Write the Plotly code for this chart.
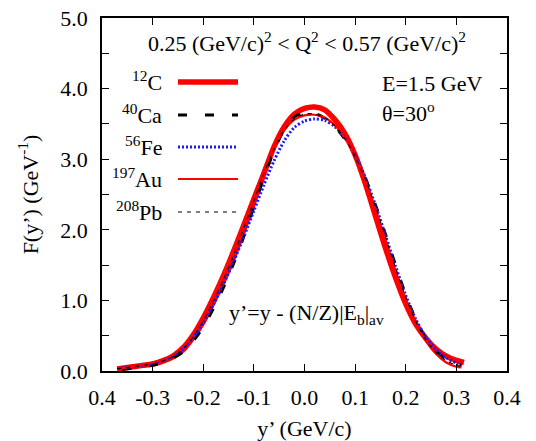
import plotly.graph_objects as go

# y' grid (GeV/c) and scaling functions F(y') (GeV^-1) for each nucleus
y_c12 = [-0.37, -0.35, -0.32, -0.30, -0.28, -0.26, -0.24, -0.22, -0.20, -0.18, -0.16, -0.14,
         -0.12, -0.10, -0.08, -0.06, -0.04, -0.02, 0.00, 0.02, 0.04, 0.06, 0.08, 0.10,
         0.12, 0.14, 0.16, 0.18, 0.20, 0.22, 0.24, 0.26, 0.28, 0.30, 0.315]
f_c12 = [0.03, 0.05, 0.08, 0.10, 0.14, 0.20, 0.30, 0.48, 0.70, 0.98, 1.28, 1.62,
         2.00, 2.40, 2.80, 3.18, 3.46, 3.64, 3.72, 3.74, 3.70, 3.56, 3.36, 3.06,
         2.66, 2.20, 1.74, 1.32, 0.95, 0.66, 0.46, 0.31, 0.21, 0.15, 0.12]

y_ca40 = [-0.36, -0.34, -0.32, -0.30, -0.28, -0.26, -0.24, -0.22, -0.20, -0.18, -0.16, -0.14,
          -0.12, -0.10, -0.08, -0.06, -0.04, -0.02, 0.00, 0.02, 0.04, 0.06, 0.08, 0.10,
          0.12, 0.14, 0.16, 0.18, 0.20, 0.22, 0.24, 0.26, 0.28, 0.30, 0.31]
f_ca40 = [0.02, 0.04, 0.06, 0.08, 0.12, 0.18, 0.27, 0.42, 0.62, 0.88, 1.18, 1.52,
          1.90, 2.32, 2.74, 3.12, 3.42, 3.60, 3.66, 3.65, 3.58, 3.46, 3.28, 3.04,
          2.74, 2.36, 1.94, 1.50, 1.08, 0.73, 0.46, 0.28, 0.17, 0.10, 0.08]

y_fe56 = [-0.37, -0.35, -0.32, -0.30, -0.28, -0.26, -0.24, -0.22, -0.20, -0.18, -0.16, -0.14,
          -0.12, -0.10, -0.08, -0.06, -0.04, -0.02, 0.00, 0.02, 0.04, 0.06, 0.08, 0.10,
          0.12, 0.14, 0.16, 0.18, 0.20, 0.22, 0.24, 0.26, 0.28, 0.30, 0.31]
f_fe56 = [0.03, 0.05, 0.08, 0.11, 0.15, 0.21, 0.31, 0.47, 0.68, 0.94, 1.23, 1.55,
          1.90, 2.27, 2.64, 2.98, 3.26, 3.45, 3.54, 3.57, 3.55, 3.46, 3.30, 3.06,
          2.74, 2.35, 1.92, 1.48, 1.07, 0.73, 0.48, 0.30, 0.19, 0.11, 0.09]

y_au197 = [-0.37, -0.35, -0.32, -0.30, -0.28, -0.26, -0.24, -0.22, -0.20, -0.18, -0.16, -0.14,
           -0.12, -0.10, -0.08, -0.06, -0.04, -0.02, 0.00, 0.02, 0.04, 0.06, 0.08, 0.10,
           0.12, 0.14, 0.16, 0.18, 0.20, 0.22, 0.24, 0.26, 0.28, 0.30, 0.31]
f_au197 = [0.03, 0.05, 0.09, 0.12, 0.17, 0.24, 0.36, 0.55, 0.80, 1.09, 1.41, 1.76,
           2.13, 2.50, 2.86, 3.17, 3.41, 3.56, 3.62, 3.63, 3.59, 3.48, 3.30, 3.04,
           2.70, 2.30, 1.86, 1.42, 1.02, 0.68, 0.42, 0.24, 0.12, 0.06, 0.05]

y_pb208 = [-0.37, -0.35, -0.32, -0.30, -0.28, -0.26, -0.24, -0.22, -0.20, -0.18, -0.16, -0.14,
           -0.12, -0.10, -0.08, -0.06, -0.04, -0.02, 0.00, 0.02, 0.04, 0.06, 0.08, 0.10,
           0.12, 0.14, 0.16, 0.18, 0.20, 0.22, 0.24, 0.26, 0.28, 0.30, 0.31]
f_pb208 = [0.03, 0.05, 0.08, 0.10, 0.14, 0.20, 0.31, 0.48, 0.71, 0.99, 1.30, 1.64,
           2.02, 2.41, 2.80, 3.14, 3.41, 3.57, 3.64, 3.64, 3.59, 3.47, 3.29, 3.04,
           2.72, 2.33, 1.90, 1.46, 1.05, 0.70, 0.44, 0.26, 0.15, 0.08, 0.07]

x_tickvals = [-0.4, -0.3, -0.2, -0.1, 0.0, 0.1, 0.2, 0.3, 0.4]
x_ticktext = ["0.4", "-0.3", "-0.2", "-0.1", "0.0", "0.1", "0.2", "0.3", "0.4"]
y_tickvals = [0.0, 0.5, 1.0, 1.5, 2.0, 2.5, 3.0, 3.5, 4.0, 4.5, 5.0]
y_ticktext = ["0.0", "", "1.0", "", "2.0", "", "3.0", "", "4.0", "", "5.0"]

FONT = "Liberation Serif"
FS = 22

series = [
    ("<sup>12</sup>C", y_c12, f_c12, dict(color="#ff0000", width=5.5, dash="solid")),
    ("<sup>40</sup>Ca", y_ca40, f_ca40, dict(color="#000000", width=2.8, dash="9px,18px")),
    ("<sup>56</sup>Fe", y_fe56, f_fe56, dict(color="#1a1aff", width=3, dash="2px,2px")),
    ("<sup>197</sup>Au", y_au197, f_au197, dict(color="#ff0000", width=2.2, dash="solid")),
    ("<sup>208</sup>Pb", y_pb208, f_pb208, dict(color="#000000", width=1.1, dash="4px,5px")),
]

fig = go.Figure()
for name, xs, ys, line in series:
    fig.add_trace(go.Scatter(x=xs, y=ys, mode="lines", name=name,
                             line=dict(shape="spline", smoothing=0.8, **line),
                             showlegend=False))

# plot area in pixels: x 102..507, y 18..371
L, R, T, B = 102, 507, 18, 371
def px(x):
    return (x - L) / (R - L)
def py(y):
    return (B - y) / (B - T)

# key: label on the left, sample line on the right
key_rows = [82, 115, 147, 179, 212]
for (name, _, _, line), yrow in zip(series, key_rows):
    fig.add_shape(type="line", xref="paper", yref="paper",
                  x0=px(178), x1=px(238), y0=py(yrow), y1=py(yrow),
                  line=dict(color=line["color"], width=line["width"], dash=line["dash"]))
    fig.add_annotation(x=px(164), y=py(yrow - 1), xref="paper", yref="paper",
                       text=name, showarrow=False, xanchor="right", yanchor="middle",
                       font=dict(family=FONT, size=FS, color="black"))

notes = [
    ("0.25 (GeV/c)<sup>2</sup> &lt; Q<sup>2</sup> &lt; 0.57 (GeV/c)<sup>2</sup>", 307, 42, "center"),
    ("E=1.5 GeV", 380, 83, "left"),
    ("θ=30<sup>o</sup>", 380, 112, "left"),
    ("y’=y - (N/Z)|E<sub>b</sub>|<sub>av</sub>", 227, 314, "left"),
]
for text, x, y, anchor in notes:
    fig.add_annotation(x=px(x), y=py(y), xref="paper", yref="paper", text=text,
                       showarrow=False, xanchor=anchor, yanchor="middle",
                       font=dict(family=FONT, size=FS, color="black"))

axis_common = dict(showgrid=False, zeroline=False, showline=True, linecolor="black",
                   linewidth=1.5, mirror="ticks", ticks="inside", ticklen=7,
                   tickwidth=1.2, tickcolor="black", automargin=False,
                   tickfont=dict(family=FONT, size=FS, color="black"))

fig.update_xaxes(range=[-0.4, 0.4], tickmode="array", tickvals=x_tickvals,
                 ticktext=x_ticktext, ticklabelstandoff=6,
                 title=dict(text="y’ (GeV/c)", font=dict(family=FONT, size=FS, color="black"),
                            standoff=13),
                 **axis_common)
fig.update_yaxes(range=[0, 5], tickmode="array", tickvals=y_tickvals,
                 ticktext=y_ticktext, ticklabelstandoff=8,
                 title=dict(text="F(y’) (GeV<sup>-1</sup>)",
                            font=dict(family=FONT, size=FS, color="black"), standoff=16),
                 **axis_common)

fig.update_layout(width=536, height=441, autosize=False,
                  margin=dict(l=L, r=536 - R, t=T, b=441 - B),
                  font=dict(family=FONT, size=FS, color="black"),
                  plot_bgcolor="white", paper_bgcolor="white")

fig.write_html("out.html")
